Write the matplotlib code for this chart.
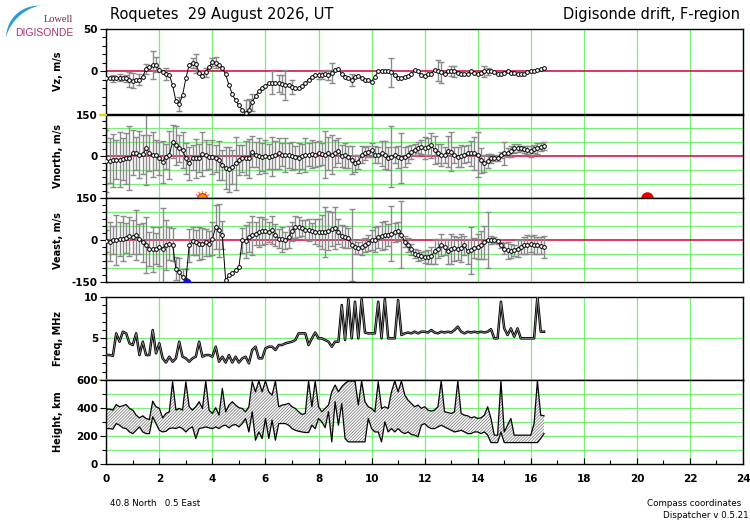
import numpy as np
import matplotlib
matplotlib.use('Agg')
import matplotlib.pyplot as plt
from matplotlib.ticker import MultipleLocator

# ---- data, sampled every 7.5 min from 00:00 UT ----
vz = [-7.5, -7.5, -8, -7.5, -7.5, -7.5, -8, -9.5,
      -11, -10.5, -9.5, -6, 3, 5, 7.5, 8,
      1.5, -1, -2.5, -4, -16, -35, -38, -28,
      -8, 8, 10, 9, -1.5, -5, -1, 5.5,
      11, 10.5, 7.5, 4, -3.5, -16, -27, -34,
      -40, -45, -49, -45, -36, -29, -23, -19,
      -17, -14, -13, -14, -14, -15, -16, -16,
      -18.5, -20, -20, -17, -14, -9.5, -6, -4,
      -4, -4, -2.5, -4, -1.5, 1.5, 3, -3.5,
      -6, -8, -10, -6, -5, -8, -9.5, -10.5,
      -12, -6, 0, 1, 1, 0, -1, -4,
      -8, -7.5, -6, -5, -3.5, 1.5, 0, -4,
      -5, -3.5, -2.5, 1.5, 1, -1, -2.5, 0,
      1, 0, -1.5, -3, -3.5, -2.5, 0, -1.5,
      -3, -1.5, 0, 0, 0, -1, -2.5, -3.5,
      -1.5, 0, -1.5, -2, -2.5, -3, -3, -1,
      0, 1, 1.5, 3, 3.5]
vz_err = [0, 0, 4, 0, 4, 0, 4, 9,
          9, 0, 6, 0, 6, 0, 16, 9,
          0, 0, 7, 0, 0, 0, 8, 0,
          0, 0, 6, 11, 0, 0, 5, 0,
          5, 6, 0, 0, 0, 0, 0, 0,
          0, 0, 16, 13, 10, 0, 0, 0,
          0, 0, 14, 0, 10, 11, 18, 0,
          8, 0, 0, 0, 0, 0, 0, 0,
          5, 5, 0, 6, 12, 0, 0, 0,
          0, 0, 7, 0, 0, 0, 0, 0,
          0, 0, 0, 0, 0, 0, 17, 0,
          0, 0, 0, 0, 0, 0, 0, 0,
          0, 0, 0, 0, 12, 12, 0, 0,
          6, 6, 0, 0, 0, 0, 0, 0,
          0, 0, 6, 4, 0, 0, 0, 0,
          0, 0, 0, 0, 0, 0, 0, 0,
          0, 0, 0, 0, 0]

vnorth = [-17, -16, -14, -13, -12, -10, -8, -8,
          13, 10, 6, 7, 28, 13, 6, 4,
          -8, -20, -2, 4, 52, 40, 28, 22,
          -8, -26, -6, -8, -6, 8, 4, -2,
          -2, -8, -14, -32, -42, -47, -38, -26,
          -14, -8, -6, -8, 16, 6, 1, -2,
          0, -2, 0, 4, 10, 6, 4, 4,
          0, -4, -6, 0, 4, 6, 8, 6,
          10, 8, 6, 10, 6, 10, 19, 1,
          4, -2, -14, -26, -20, 6, 10, 16,
          22, 6, 4, 10, 4, -8, -2, 4,
          -2, -6, -2, 6, 16, 24, 30, 34,
          30, 34, 40, 22, 10, 4, 4, 18,
          16, 4, -2, 1, 6, 10, 10, 10,
          6, -14, -26, -18, -8, -8, -6, 4,
          10, 13, 18, 28, 30, 28, 25, 22,
          18, 25, 28, 34, 37]
vnorth_err = [110, 80, 95, 70, 100, 75, 90, 115,
              80, 60, 85, 70, 130, 65, 80, 55,
              60, 75, 45, 85, 60, 70, 50, 65,
              55, 60, 45, 70, 50, 80, 55, 45,
              60, 50, 70, 55, 75, 80, 60, 95,
              55, 50, 60, 70, 55, 45, 65, 50,
              60, 45, 70, 50, 55, 40, 60, 45,
              50, 40, 55, 45, 60, 40, 50, 45,
              45, 40, 85, 60, 70, 50, 45, 40,
              45, 40, 50, 30, 25, 30, 25, 20,
              25, 30, 30, 45, 50, 40, 110, 30,
              40, 90, 35, 30, 25, 20, 20, 25,
              40, 30, 45, 50, 35, 40, 30, 55,
              70, 30, 35, 40, 30, 30, 45, 60,
              80, 45, 30, 25, 15, 10, 10, 10,
              40, 15, 20, 15, 15, 10, 12, 15,
              20, 15, 20, 15, 15]

veast = [-4, -6, 0, 2, 4, 6, 8, 14,
         12, 18, 4, -8, -16, -32, -33, -30,
         -24, -30, -16, -12, -16, -102, -114, -132,
         -144, -18, -4, -8, -12, -12, -8, -12,
         6, 48, 36, 18, -144, -126, -116, -108,
         -96, 0, -4, 12, 18, 24, 30, 32,
         32, 30, 36, 20, 6, 4, 0, 12,
         32, 48, 48, 44, 38, 36, 32, 30,
         28, 30, 30, 34, 40, 44, 30, 16,
         12, 8, -16, -24, -28, -24, -18, -10,
         0, 2, 12, 16, 18, 20, 24, 28,
         32, 20, -6, -18, -32, -48, -54, -56,
         -60, -61, -56, -40, -30, -18, -24, -40,
         -32, -28, -30, -28, -18, -40, -36, -28,
         -24, -18, -8, 0, 0, 0, -4, -18,
         -30, -36, -40, -36, -30, -24, -18, -16,
         -14, -16, -18, -20, -24]
veast_err = [40, 70, 50, 90, 60, 80, 55, 70,
             60, 90, 55, 70, 100, 60, 80, 55,
             70, 145, 90, 60, 60, 40, 50, 30,
             40, 60, 50, 45, 60, 55, 50, 45,
             60, 80, 95, 50, 0, 0, 0, 0,
             0, 45, 60, 55, 70, 40, 55, 50,
             45, 35, 50, 40, 35, 45, 30, 40,
             35, 40, 35, 30, 35, 40, 30, 45,
             50, 60, 90, 70, 60, 75, 45, 40,
             40, 35, 130, 25, 20, 30, 25, 30,
             35, 45, 40, 50, 50, 40, 100, 35,
             35, 120, 20, 25, 20, 15, 20, 15,
             20, 25, 30, 45, 35, 40, 30, 45,
             55, 45, 40, 50, 35, 45, 85, 35,
             45, 50, 60, 100, 15, 10, 10, 10,
             20, 30, 25, 20, 30, 25, 30, 35,
             30, 35, 30, 30, 40]

freq = [3.0, 3.0, 2.9, 5.6, 4.6, 5.8, 5.6, 4.4,
        4.2, 5.6, 3.0, 4.6, 3.0, 3.0, 6.0, 3.2,
        4.4, 2.6, 2.1, 2.8, 2.2, 2.6, 4.6, 2.8,
        2.6, 2.2, 2.6, 2.8, 4.6, 2.8, 3.0, 3.0,
        2.8, 4.0, 2.2, 2.8, 2.1, 3.0, 2.1, 2.8,
        2.1, 2.6, 2.8, 2.0, 3.6, 4.0, 2.6, 2.6,
        3.8, 4.0, 4.0, 3.6, 4.2, 4.2, 4.4, 4.5,
        4.6, 4.8, 5.6, 5.6, 5.6, 4.2, 5.0, 5.7,
        5.0, 5.0, 4.8, 4.6, 4.0, 4.6, 4.6, 9.0,
        4.8, 9.7, 5.0, 9.4, 5.0, 9.7, 5.7, 5.6,
        5.6, 5.6, 9.4, 5.0, 9.7, 5.0, 5.0, 5.0,
        9.6, 5.4, 5.6, 5.7, 5.6, 5.8, 5.6, 5.8,
        5.8, 5.7, 6.0, 5.7, 5.6, 5.8, 5.7, 5.8,
        5.7, 6.0, 6.4, 5.8, 5.6, 5.8, 5.7, 5.8,
        5.7, 5.8, 5.7, 5.8, 6.1, 5.0, 5.0, 9.4,
        6.2, 5.4, 6.2, 5.2, 6.2, 5.0, 5.0, 5.0,
        5.0, 5.0, 10.0, 5.8, 5.8]

h_low = [253, 253, 249, 289, 277, 258, 253, 229,
         217, 241, 265, 229, 217, 217, 337, 289,
         241, 229, 234, 253, 258, 253, 265, 253,
         229, 253, 265, 182, 253, 258, 265, 258,
         253, 265, 253, 272, 277, 258, 277, 282,
         265, 289, 325, 229, 373, 170, 229, 182,
         325, 182, 313, 170, 289, 289, 289, 277,
         253, 241, 234, 229, 225, 225, 277, 253,
         325, 301, 260, 373, 158, 445, 277, 433,
         182, 158, 158, 158, 158, 158, 158, 325,
         253, 229, 229, 158, 301, 229, 253, 229,
         253, 229, 217, 229, 210, 206, 194, 277,
         289, 265, 253, 253, 265, 277, 265, 253,
         241, 229, 234, 241, 229, 217, 217, 229,
         229, 217, 229, 206, 153, 153, 153, 229,
         153, 153, 153, 153, 153, 153, 153, 153,
         153, 153, 153, 182, 217]
h_high = [392, 392, 385, 425, 409, 416, 425, 397,
          385, 349, 330, 344, 325, 318, 449, 409,
          397, 330, 361, 373, 588, 385, 397, 385,
          588, 409, 385, 409, 445, 397, 593, 385,
          361, 402, 349, 540, 373, 421, 445, 421,
          402, 397, 373, 409, 588, 516, 593, 516,
          593, 516, 492, 593, 409, 421, 425, 433,
          409, 397, 373, 354, 361, 593, 409, 593,
          409, 373, 397, 421, 516, 564, 516, 552,
          576, 593, 593, 593, 421, 593, 445, 409,
          397, 373, 588, 397, 409, 397, 516, 593,
          516, 593, 492, 456, 433, 409, 421, 397,
          409, 385, 378, 385, 409, 593, 373, 368,
          361, 373, 593, 361, 349, 344, 330, 337,
          325, 330, 349, 409, 325, 206, 206, 593,
          229, 277, 325, 206, 206, 206, 206, 206,
          206, 289, 593, 349, 344]

ut = np.arange(len(vz)) * 0.125

GREEN = '#78f078'
RED = '#d4003c'
GRAY = '#8a8a8a'

plt.rcParams['hatch.linewidth'] = 0.55
plt.rcParams['hatch.color'] = '#7a7a7a'

fig = plt.figure(figsize=(7.5, 5.2), dpi=100)
L, W = 0.1417, 0.849
ax_vz = fig.add_axes([L, 0.7808, W, 0.1635])
ax_vn = fig.add_axes([L, 0.6192, W, 0.1606])
ax_ve = fig.add_axes([L, 0.4577, W, 0.1606])
ax_fq = fig.add_axes([L, 0.2692, W, 0.1602])
ax_ht = fig.add_axes([L, 0.1077, W, 0.1615])


def style_axis(ax, ylim, ticks, labels, minor, hlines, ylabel):
    ax.set_xlim(0, 24)
    ax.set_ylim(*ylim)
    ax.set_xticks(range(0, 25, 2))
    ax.xaxis.set_minor_locator(MultipleLocator(1))
    ax.grid(True, axis='x', which='major', color=GREEN, lw=0.9)
    ax.set_axisbelow(True)
    for lev in hlines:
        ax.axhline(lev, color=GREEN, lw=0.9, zorder=1)
    ax.set_yticks(ticks)
    ax.set_yticklabels(labels, fontweight='bold', fontsize=7.5)
    ax.yaxis.set_minor_locator(MultipleLocator(minor))
    ax.tick_params(axis='y', which='major', direction='out', length=4, width=0.8, pad=2)
    ax.tick_params(axis='y', which='minor', direction='out', length=3, width=0.8)
    ax.tick_params(axis='x', which='both', length=0, labelbottom=False)
    for s in ax.spines.values():
        s.set_linewidth(1.0)
    ax.set_ylabel(ylabel, fontweight='bold', fontsize=7)
    ax.yaxis.set_label_coords(-0.068, 0.5)


def draw_velocity(ax, vals, errs):
    vals = np.array(vals, dtype=float)
    errs = np.array(errs, dtype=float)
    m = errs > 0
    ax.errorbar(ut[m], vals[m], yerr=errs[m], fmt='none', ecolor=GRAY,
                elinewidth=1.0, capsize=2, capthick=1.0, zorder=2)
    ax.plot(ut, vals, '-', color='black', lw=0.7, zorder=3)
    ax.plot(ut, vals, 'o', ms=2.7, mfc='white', mec='black', mew=0.7, zorder=4)


style_axis(ax_vz, (-50, 50), [-50, 0, 50], ['', '0', '50'], 10, [], 'Vz, m/s')
ax_vz.axhline(0, color=RED, lw=1.1, zorder=1.5)
draw_velocity(ax_vz, vz, vz_err)

style_axis(ax_vn, (-150, 150), [-150, 0, 150], ['', '0', '150'], 25,
           [-100, -50, 50, 100], 'Vnorth, m/s')
ax_vn.axhline(0, color=RED, lw=1.1, zorder=1.5)
draw_velocity(ax_vn, vnorth, vnorth_err)
# sunrise / sunset markers on the lower edge
ax_vn.plot([3.6], [-150], marker=(12, 2, 0), ms=11, color='#ff9070', mew=0.8, zorder=5)
ax_vn.plot([3.6], [-150], 'o', ms=7, mfc='#ff8c00', mec='#e03010', mew=0.8, zorder=6)
ax_vn.plot([20.37], [-150], 'o', ms=8, mfc='#ee0000', mec='#ee0000', zorder=6)

style_axis(ax_ve, (-150, 150), [-150, 0, 150], ['-150', '0', '150'], 25,
           [-100, -50, 50, 100], 'Veast, m/s')
ax_ve.axhline(0, color=RED, lw=1.1, zorder=1.5)
draw_velocity(ax_ve, veast, veast_err)
ax_ve.plot([3.05], [-150], 'o', ms=4.5, mfc='#1010d0', mec='#1010d0', zorder=6)

style_axis(ax_fq, (0, 10), [0, 5, 10], ['', '5', '10'], 1, [5], 'Freq, MHz')
ax_fq.plot(ut, freq, color='black', lw=1.8, zorder=3)
ax_fq.plot(ut, freq, color='#a0a0a0', lw=0.5, zorder=4)

style_axis(ax_ht, (0, 600), [0, 200, 400, 600], ['0', '200', '400', '600'], 100,
           [100, 200, 300, 400, 500], 'Height, km')
ax_ht.fill_between(ut, h_low, h_high, facecolor='white', edgecolor='#7a7a7a',
                   hatch='/' * 11, lw=0, zorder=2)
ax_ht.plot(ut, h_low, color='black', lw=0.9, zorder=3)
ax_ht.plot(ut, h_high, color='black', lw=0.9, zorder=3)
ax_ht.tick_params(axis='x', which='major', direction='in', length=4, width=0.8,
                  labelbottom=True, labelsize=7.5, pad=7)
ax_ht.tick_params(axis='x', which='minor', direction='in', length=3, width=0.8)
ax_ht.set_xticklabels([str(h) for h in range(0, 25, 2)], fontweight='bold')

# small yellow marks on the left edge
for ax, lev in [(ax_vn, 150), (ax_fq, 0)]:
    ax.plot([-0.25, 0], [lev, lev], color='#f0d000', lw=1.5, clip_on=False, zorder=6)

# titles and footers
fig.text(0.147, 0.972, 'Roquetes  29 August 2026, UT', fontsize=10.5, va='center')
fig.text(0.987, 0.972, 'Digisonde drift, F-region', fontsize=10.5, va='center', ha='right')
fig.text(0.147, 0.031, '40.8 North   0.5 East', fontsize=6.3, va='center')
fig.text(0.988, 0.031, 'Compass coordinates', fontsize=6.3, va='center', ha='right')
fig.text(0.998, 0.008, 'Dispatcher v 0.5.21', fontsize=6.3, va='center', ha='right')

# logo
logo = fig.add_axes([0, 0, 1, 1], zorder=-1)
logo.set_xlim(0, 750)
logo.set_ylim(520, 0)
logo.axis('off')
th = np.radians(np.linspace(96, 170, 60))
bulge = np.sin(np.pi * (th - th[0]) / (th[-1] - th[0]))
r_out = 38.5 + 2.2 * bulge
r_in = 38.5 - 1.2 * bulge
xs = np.concatenate([44 + r_out * np.cos(th), (44 + r_in * np.cos(th))[::-1]])
ys = np.concatenate([44 - r_out * np.sin(th), (44 - r_in * np.sin(th))[::-1]])
logo.fill(xs, ys, color='#2b9fd2', lw=0)
logo.text(73, 20, 'Lowell', fontsize=7.5, family='Liberation Serif', color='#6a2a40',
          ha='right', va='center')
logo.text(73, 33, 'DIGISONDE', fontsize=7.5, family='Liberation Sans', color='#a8306a',
          ha='right', va='center')

fig.savefig('out.png', dpi=100)
